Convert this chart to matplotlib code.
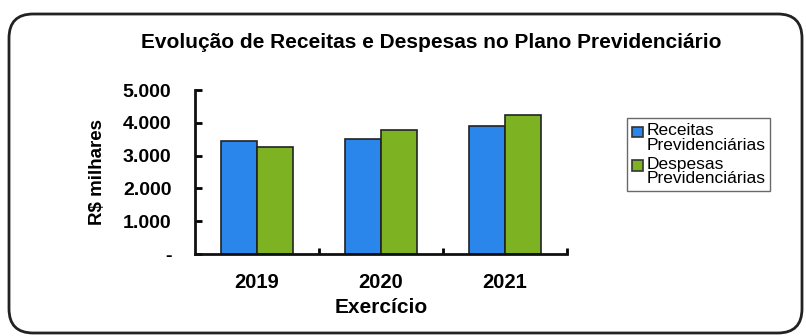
import numpy as np
import matplotlib.pyplot as plt
from matplotlib.patches import FancyBboxPatch, Patch, Rectangle
from matplotlib.legend_handler import HandlerBase

anos = ['2019', '2020', '2021']
receitas = [3450, 3500, 3900]
despesas = [3250, 3780, 4240]
yticks = [0, 1000, 2000, 3000, 4000, 5000]
ylabels = ['-', '1.000', '2.000', '3.000', '4.000', '5.000']

cor_rec = '#2a86ea'
cor_desp = '#7db223'

plt.rcParams['font.family'] = ['Liberation Sans', 'DejaVu Sans']


class QuadradoTopo(HandlerBase):
    # quadradinho da legenda alinhado com a primeira linha do texto
    def create_artists(self, legend, orig_handle, xdescent, ydescent,
                       width, height, fontsize, trans):
        s = 0.62 * fontsize
        r = Rectangle((-xdescent, -ydescent + height - s * 1.15), s, s,
                      facecolor=orig_handle.get_facecolor(),
                      edgecolor='#333333', linewidth=1.2, transform=trans)
        return [r]


fig = plt.figure(figsize=(8.06, 3.36), dpi=100)
ax = fig.add_axes([0.242, 0.244, 0.461, 0.488])

x = np.arange(len(anos))
w = 0.29
ax.bar(x - w / 2, receitas, w, color=cor_rec, edgecolor='#222222', linewidth=1.2)
ax.bar(x + w / 2, despesas, w, color=cor_desp, edgecolor='#222222', linewidth=1.2)

ax.set_xlim(-0.5, 2.5)
ax.set_ylim(0, 5000)
ax.set_yticks(yticks)
ax.set_yticklabels(ylabels, fontsize=14, fontweight='bold')
ax.set_xticks(x)
ax.set_xticklabels(anos, fontsize=14.5, fontweight='bold')
ax.tick_params(axis='x', length=0, pad=14)
ax.set_xticks([0.5, 1.5, 2.5], minor=True)
ax.tick_params(axis='x', which='minor', length=4, width=2, direction='in')
ax.tick_params(axis='y', length=5, width=2, direction='in', pad=17)

for s in ['top', 'right']:
    ax.spines[s].set_visible(False)
for s in ['left', 'bottom']:
    ax.spines[s].set_linewidth(2)
    ax.spines[s].set_color('#111111')

ax.set_xlabel('Exercício', fontsize=15, fontweight='bold', labelpad=4)
ax.set_ylabel('R$ milhares', fontsize=13.5, fontweight='bold', labelpad=12)

fig.text(0.535, 0.875, 'Evolução de Receitas e Despesas no Plano Previdenciário',
         ha='center', va='center', fontsize=15, fontweight='bold')

handles = [Patch(facecolor=cor_rec), Patch(facecolor=cor_desp)]
leg = fig.legend(handles, ['Receitas\nPrevidenciárias', 'Despesas\nPrevidenciárias'],
                 loc='upper left', bbox_to_anchor=(0.778, 0.649),
                 fontsize=12.5, frameon=True, fancybox=False, edgecolor='#444444',
                 handlelength=0.65, handleheight=2.0, handletextpad=0.15,
                 labelspacing=0.25, borderpad=0.3, borderaxespad=0,
                 handler_map={Patch: QuadradoTopo()})
leg.get_frame().set_linewidth(1)
for t in leg.get_texts():
    t.set_linespacing(0.95)

frame = FancyBboxPatch((9 / 806, 3 / 336), 793 / 806, 319 / 336,
                       boxstyle='round,pad=0,rounding_size=0.03',
                       transform=fig.transFigure, fill=False,
                       edgecolor='#222222', linewidth=2, mutation_aspect=2.4)
fig.patches.append(frame)

fig.savefig('out.png', dpi=100)
